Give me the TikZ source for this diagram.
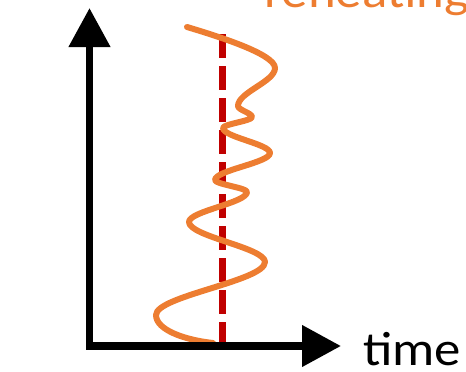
\documentclass[tikz,border=0pt]{standalone}
\usepackage{fontspec}
\newfontfamily\labelfont[FakeStretch=1.1]{Carlito}
\usetikzlibrary{arrows.meta}
\definecolor{waveorange}{HTML}{ED7D31}
\definecolor{refred}{HTML}{C00000}
\begin{document}
\begin{tikzpicture}[x=1pt,y=-1pt,
  axisline/.style={line width=7.5pt, line join=miter,
    {Triangle[length=39pt,width=40pt]}-{Triangle[length=39pt,width=40pt]}},
  refline/.style={refred, line width=7pt, dash pattern=on 24pt off 8pt},
  wavy/.style={waveorange, line width=6pt, line cap=round, line join=round},
  lbl/.style={inner sep=0pt, anchor=base west, font=\labelfont\fontsize{48}{52}\selectfont}]
\useasboundingbox (0,0) rectangle (466,372);
\clip (0,0) rectangle (466,372);
% reference line
\coordinate (reftop) at (222,34);
\coordinate (refbot) at (222,346);
\draw[refline] (reftop) -- (refbot);
% wave
\coordinate (wstart) at (187,27);
\coordinate (wend) at (213,343);
\draw[wavy] (wstart)
  .. controls (217,36) and (275,54) .. (275,68)
  .. controls (275,81.7) and (238,92.3) .. (238,106)
  .. controls (238,110) and (252,113) .. (252,117)
  .. controls (252,121) and (223,124) .. (223,128)
  .. controls (223,137) and (270,144) .. (270,153)
  .. controls (270,162.7) and (215,170.3) .. (215,180)
  .. controls (215,184.3) and (247,187.7) .. (247,192)
  .. controls (247,202.8) and (189,211.2) .. (189,222)
  .. controls (189,236.4) and (265,247.6) .. (265,262)
  .. controls (265,281) and (156,296) .. (156,315)
  .. controls (156,330) and (185,340) .. (wend);
% axes
\coordinate (ytip) at (89.5,8);
\coordinate (origin) at (89.5,346);
\coordinate (xtip) at (341,346);
\draw[axisline] (ytip) -- (origin) -- (xtip);
% labels
\node[lbl] (timelbl) at (363,365) {time};
\node[lbl, text=waveorange] (reheatlbl) at (264,8) {reheating};
\end{tikzpicture}
\end{document}
